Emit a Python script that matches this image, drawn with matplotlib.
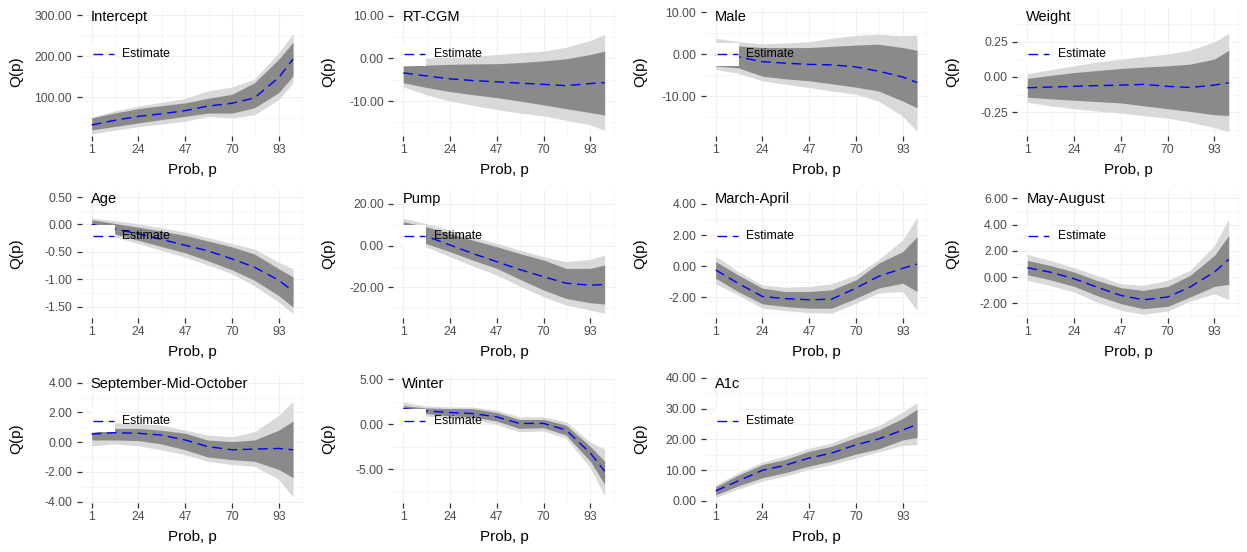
import numpy as np
import matplotlib
matplotlib.use('Agg')
import matplotlib.pyplot as plt
from matplotlib.patches import Rectangle
from matplotlib.lines import Line2D
import matplotlib.transforms as mtransforms

plt.rcParams['font.family'] = ['Liberation Sans', 'DejaVu Sans']

# ---------------- data ----------------
prob = [1, 12, 24, 35, 47, 58, 70, 81, 93, 100]
x_ticks = [1, 24, 47, 70, 93]

intercept_est = [32, 43, 53, 59, 67, 78, 85, 98, 148, 193]
intercept_in_hi = [49, 61, 72, 79, 86, 97, 107, 135, 193, 234]
intercept_in_lo = [20, 28, 37, 45, 53, 61, 61, 74, 111, 152]
intercept_out_hi = [51, 66, 78, 87, 97, 115, 125, 144, 209, 255]
intercept_out_lo = [10, 19, 28, 34, 41, 53, 49, 57, 94, 135]

rtcgm_est = [-3.4, -4.1, -4.8, -5.2, -5.5, -5.8, -6.1, -6.4, -5.9, -5.7]
rtcgm_in_hi = [-1.8, -1.6, -1.4, -1.3, -1.25, -1.0, -0.6, -0.1, 0.9, 1.7]
rtcgm_in_lo = [-5.7, -6.8, -7.8, -8.5, -9.2, -10.0, -10.9, -11.8, -12.7, -13.3]
rtcgm_out_hi = [-0.5, 0.0, 0.15, 0.5, 0.9, 1.3, 1.7, 2.6, 4.2, 5.6]
rtcgm_out_lo = [-6.7, -8.5, -10.0, -11.0, -12.0, -12.8, -13.5, -14.5, -15.6, -16.9]

male_est = [-0.3, -0.6, -1.75, -2.1, -2.4, -2.5, -3.0, -4.0, -5.4, -6.7]
male_in_hi = [2.8, 2.0, 1.6, 1.6, 1.6, 1.9, 2.2, 2.4, 1.6, 0.95]
male_in_lo = [-2.8, -3.2, -5.2, -5.8, -6.3, -7.0, -7.8, -8.7, -11.1, -12.7]
male_out_hi = [3.8, 3.0, 2.5, 2.7, 3.0, 3.8, 4.5, 4.8, 4.4, 4.6]
male_out_lo = [-3.6, -4.5, -6.3, -7.1, -7.9, -8.7, -9.5, -11.1, -14.7, -18.3]

weight_est = [-0.077, -0.072, -0.067, -0.062, -0.058, -0.053, -0.067, -0.075, -0.058, -0.041]
weight_in_hi = [-0.01, 0.01, 0.031, 0.045, 0.06, 0.07, 0.079, 0.091, 0.127, 0.19]
weight_in_lo = [-0.144, -0.155, -0.166, -0.175, -0.185, -0.205, -0.226, -0.245, -0.269, -0.274]
weight_out_hi = [0.024, 0.05, 0.079, 0.105, 0.127, 0.145, 0.163, 0.19, 0.25, 0.31]
weight_out_lo = [-0.18, -0.205, -0.226, -0.242, -0.257, -0.275, -0.293, -0.322, -0.36, -0.39]

age_est = [0.0, -0.08, -0.17, -0.27, -0.38, -0.48, -0.63, -0.78, -1.02, -1.22]
age_in_hi = [0.085, 0.02, -0.05, -0.12, -0.2, -0.3, -0.41, -0.54, -0.81, -0.96]
age_in_lo = [-0.05, -0.17, -0.29, -0.4, -0.52, -0.66, -0.83, -1.02, -1.3, -1.51]
age_out_hi = [0.12, 0.07, 0.01, -0.06, -0.14, -0.24, -0.35, -0.45, -0.69, -0.81]
age_out_lo = [-0.1, -0.22, -0.35, -0.47, -0.6, -0.74, -0.9, -1.12, -1.42, -1.63]

pump_est = [9.0, 4.6, 0.3, -3.7, -7.7, -11.4, -14.9, -18.0, -19.0, -18.6]
pump_in_hi = [11.5, 9.1, 5.9, 2.7, -0.5, -3.7, -6.9, -10.9, -10.9, -9.3]
pump_in_lo = [6.0, 1.1, -2.9, -6.9, -10.9, -16.0, -21.3, -25.3, -27.4, -28.0]
pump_out_hi = [13.1, 10.7, 7.5, 4.3, 1.1, -2.1, -5.3, -7.7, -6.6, -4.5]
pump_out_lo = [4.0, -0.5, -5.3, -9.7, -14.1, -19.3, -24.5, -28.5, -30.9, -32.5]

marapr_est = [-0.24, -1.1, -1.95, -2.08, -2.16, -2.12, -1.41, -0.66, -0.13, 0.13]
marapr_in_hi = [0.3, -0.56, -1.41, -1.63, -1.63, -1.52, -0.88, 0.19, 0.94, 1.9]
marapr_in_lo = [-0.77, -1.63, -2.42, -2.59, -2.7, -2.7, -2.06, -1.41, -1.09, -1.63]
marapr_out_hi = [0.66, -0.34, -1.2, -1.35, -1.3, -1.13, -0.56, 0.41, 1.69, 3.15]
marapr_out_lo = [-1.13, -1.84, -2.7, -2.85, -2.98, -3.02, -2.38, -1.73, -1.63, -2.85]

mayaug_est = [0.71, 0.38, -0.13, -0.76, -1.4, -1.73, -1.52, -0.76, 0.38, 1.35]
mayaug_in_hi = [1.27, 0.89, 0.38, -0.25, -0.81, -1.02, -0.71, 0.13, 1.65, 3.17]
mayaug_in_lo = [0.18, -0.2, -0.71, -1.4, -2.03, -2.41, -2.23, -1.52, -0.71, -0.56]
mayaug_out_hi = [1.73, 1.27, 0.71, 0.13, -0.51, -0.63, -0.25, 0.51, 2.41, 4.44]
mayaug_out_lo = [-0.25, -0.63, -1.14, -1.9, -2.54, -2.84, -2.59, -1.83, -1.27, -1.73]

sept_est = [0.55, 0.64, 0.6, 0.48, 0.15, -0.29, -0.51, -0.46, -0.42, -0.51]
sept_in_hi = [0.64, 0.93, 0.93, 0.81, 0.6, 0.15, 0.04, 0.15, 0.81, 1.43]
sept_in_lo = [0.15, 0.15, 0.11, -0.11, -0.51, -0.99, -1.17, -1.28, -1.83, -2.38]
sept_out_hi = [1.0, 1.3, 1.26, 1.15, 0.81, 0.48, 0.37, 0.7, 1.81, 2.75]
sept_out_lo = [-0.24, -0.11, -0.24, -0.51, -0.84, -1.28, -1.5, -1.61, -2.49, -3.7]

winter_est = [1.76, 1.5, 1.32, 1.21, 0.84, 0.11, 0.11, -0.62, -3.19, -5.2]
winter_in_hi = [2.1, 1.83, 1.76, 1.76, 1.32, 0.55, 0.55, -0.07, -2.45, -4.1]
winter_in_lo = [1.39, 1.21, 0.95, 0.84, 0.37, -0.44, -0.37, -1.17, -4.1, -6.67]
winter_out_hi = [2.49, 2.05, 1.94, 1.94, 1.58, 0.84, 0.84, 0.29, -1.98, -2.71]
winter_out_lo = [1.21, 0.95, 0.66, 0.55, 0.0, -0.81, -0.73, -1.54, -4.84, -7.95]

a1c_est = [3.2, 6.4, 9.9, 11.5, 13.9, 15.5, 18.2, 20.1, 23.0, 24.9]
a1c_in_hi = [4.5, 8.3, 11.8, 13.4, 16.1, 17.7, 20.6, 23.0, 26.8, 29.8]
a1c_in_lo = [1.9, 4.8, 7.5, 9.1, 11.3, 12.9, 15.2, 16.9, 19.8, 20.6]
a1c_out_hi = [5.1, 9.1, 12.6, 14.5, 17.1, 18.8, 22.0, 24.4, 28.9, 31.9]
a1c_out_lo = [1.1, 3.8, 6.4, 8.0, 10.2, 11.8, 13.9, 15.9, 18.0, 18.2]

names = ["Intercept", "RT-CGM", "Male", "Weight", "Age", "Pump", "March-April",
         "May-August", "September-Mid-October", "Winter", "A1c"]

y_ticks = {
    "Intercept": [100, 200, 300],
    "RT-CGM": [-10, 0, 10],
    "Male": [-10, 0, 10],
    "Weight": [-0.25, 0, 0.25],
    "Age": [-1.5, -1.0, -0.5, 0.0, 0.5],
    "Pump": [-20, 0, 20],
    "March-April": [-2, 0, 2, 4],
    "May-August": [-2, 0, 2, 4, 6],
    "September-Mid-October": [-4, -2, 0, 2, 4],
    "Winter": [-5, 0, 5],
    "A1c": [0, 10, 20, 30, 40],
}

series = {
    "Intercept": (intercept_est, intercept_in_lo, intercept_in_hi, intercept_out_lo, intercept_out_hi),
    "RT-CGM": (rtcgm_est, rtcgm_in_lo, rtcgm_in_hi, rtcgm_out_lo, rtcgm_out_hi),
    "Male": (male_est, male_in_lo, male_in_hi, male_out_lo, male_out_hi),
    "Weight": (weight_est, weight_in_lo, weight_in_hi, weight_out_lo, weight_out_hi),
    "Age": (age_est, age_in_lo, age_in_hi, age_out_lo, age_out_hi),
    "Pump": (pump_est, pump_in_lo, pump_in_hi, pump_out_lo, pump_out_hi),
    "March-April": (marapr_est, marapr_in_lo, marapr_in_hi, marapr_out_lo, marapr_out_hi),
    "May-August": (mayaug_est, mayaug_in_lo, mayaug_in_hi, mayaug_out_lo, mayaug_out_hi),
    "September-Mid-October": (sept_est, sept_in_lo, sept_in_hi, sept_out_lo, sept_out_hi),
    "Winter": (winter_est, winter_in_lo, winter_in_hi, winter_out_lo, winter_out_hi),
    "A1c": (a1c_est, a1c_in_lo, a1c_in_hi, a1c_out_lo, a1c_out_hi),
}

# ---------------- layout / style ----------------
y_limits = {
    "Intercept": (5, 318),
    "RT-CGM": (-18.2, 11.8),
    "Male": (-19.4, 11.0),
    "Weight": (-0.42, 0.49),
    "Age": (-1.71, 0.63),
    "Pump": (-34.7, 26.7),
    "March-April": (-3.33, 4.9),
    "May-August": (-3.12, 6.63),
    "September-Mid-October": (-4.05, 4.55),
    "Winter": (-8.68, 5.55),
    "A1c": (-0.58, 41.1),
}

W, H = 1247, 552
fig = plt.figure(figsize=(W / 100, H / 100), dpi=100)
col_left = [81.6, 393.2, 705.6, 1017.3]
row_top = [8, 190, 374.5]
aw, ah = 221.5, 128

DARK = '#8A8A8A'
LIGHT = '#D9D9D9'
GRID = '#F0F0F0'
DASH = (0, (7, 4))


def minor_between(ticks, lo, hi):
    t = list(ticks)
    step = t[1] - t[0]
    ext = [t[0] - step] + t + [t[-1] + step]
    mids = [(a + b) / 2 for a, b in zip(ext[:-1], ext[1:])]
    return [m for m in mids if lo <= m <= hi]


xlim = (1 - 4.95, 100 + 4.95)

for i, name in enumerate(names):
    r, c = divmod(i, 4)
    ax = fig.add_axes([col_left[c] / W, 1 - (row_top[r] + ah) / H, aw / W, ah / H])
    est, ilo, ihi, olo, ohi = series[name]
    ax.fill_between(prob, olo, ohi, color=LIGHT, lw=0, zorder=2)
    ax.fill_between(prob, ilo, ihi, color=DARK, lw=0, zorder=3)
    ax.plot(prob, est, color='blue', ls=DASH, lw=1.0, zorder=4)

    ylim = y_limits[name]
    ax.set_xlim(*xlim)
    ax.set_ylim(*ylim)
    yt = y_ticks[name]
    ax.set_xticks(x_ticks)
    ax.set_xticklabels([str(v) for v in x_ticks])
    ax.set_yticks(yt)
    ax.set_yticklabels([f'{v:.2f}' for v in yt])
    ax.set_xticks(minor_between(x_ticks, *xlim), minor=True)
    ax.set_yticks(minor_between(yt, *ylim), minor=True)

    for s in ax.spines.values():
        s.set_visible(False)
    ax.set_axisbelow(True)
    ax.grid(which='major', color=GRID, lw=0.8)
    ax.grid(which='minor', color=GRID, lw=0.4)
    ax.tick_params(which='major', length=3.3, width=0.9, color='#333333',
                   labelsize=8.8, labelcolor='#4D4D4D')
    ax.tick_params(axis='y', which='major', pad=3.5)
    ax.tick_params(axis='x', which='major', pad=2.5)
    ax.tick_params(which='minor', length=0)

    ax.set_xlabel('Prob, p', fontsize=11)
    ax.set_ylabel('Q(p)', fontsize=11)
    ax.xaxis.set_label_coords(0.5, -27 / ah)
    ax.yaxis.set_label_coords(-58 / aw, 0.5)

    trans = mtransforms.blended_transform_factory(ax.transData, ax.transAxes)
    ax.text(0.5, 0.898, name, transform=trans, fontsize=10.5, va='baseline', ha='left', zorder=9)

    # legend (inside, top-left)
    ly = 0.64
    ax.add_patch(Rectangle((0.045, ly - 0.09), 0.105, 0.18, transform=ax.transAxes,
                           facecolor='white', edgecolor='none', zorder=6))
    ax.add_line(Line2D([0.05, 0.145], [ly, ly], transform=ax.transAxes, color='blue',
                       ls=DASH, lw=1.0, zorder=7))
    ax.text(0.182, ly, 'Estimate', transform=ax.transAxes, fontsize=8.8,
            va='center', ha='left', zorder=8)

fig.savefig('out.png', dpi=100)
